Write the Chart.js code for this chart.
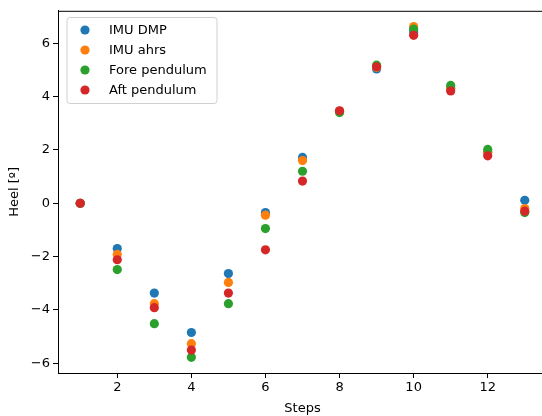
<!DOCTYPE html>
<html>
<head>
<meta charset="utf-8">
<script src="https://cdn.jsdelivr.net/npm/chart.js@4"></script>
<style>
  html, body { margin: 0; padding: 0; background: #fff; overflow: hidden; }
  #wrap { width: 542px; height: 416px; overflow: hidden; position: relative; }
  #box { width: 560px; height: 416px; position: absolute; left: 0; top: 0; }
  #heelChart { display: block; }
</style>
</head>
<body>
<div id="wrap"><div id="box"><canvas id="heelChart" width="560" height="416"></canvas></div></div>
<script>
// Heel per step, four sensors
const steps = [1, 2, 3, 4, 5, 6, 7, 8, 9, 10, 11, 12, 13];
const imuDmp = [0, -1.70, -3.37, -4.85, -2.64, -0.35, 1.72, 3.45, 5.04, 6.42, 4.30, 1.92, 0.11];
const imuAhrs = [0, -1.92, -3.77, -5.27, -2.97, -0.45, 1.60, 3.45, 5.10, 6.63, 4.32, 1.90, -0.20];
const forePendulum = [0, -2.49, -4.52, -5.78, -3.77, -0.95, 1.20, 3.40, 5.18, 6.53, 4.42, 2.02, -0.35];
const aftPendulum = [0, -2.12, -3.92, -5.51, -3.37, -1.75, 0.83, 3.47, 5.12, 6.30, 4.21, 1.78, -0.30];

const xTicks = [2, 4, 6, 8, 10, 12];
const yTicks = [-6, -4, -2, 0, 2, 4, 6];

const Colors = ['#1f77b4', '#ff7f0e', '#2ca02c', '#d62728'];
const FONT = 'DejaVu Sans';

function points(values) {
    return steps.map((s, i) => ({ x: s, y: values[i] }));
}

function makeDataset(label, values, idx) {
    return {
        label: label,
        data: points(values),
        backgroundColor: Colors[idx],
        borderColor: Colors[idx],
        borderWidth: 0,
        pointRadius: 4.6,
        pointHoverRadius: 4.6,
        order: 3 - idx   // last series drawn on top, like matplotlib
    };
}

function fmt(v) {
    return String(v).replace('-', '\u2212');
}

// top spine + legend box drawn like matplotlib
const framePlugin = {
    id: 'frame',
    afterDraw(chart) {
        const { ctx, chartArea: a } = chart;
        ctx.save();
        ctx.strokeStyle = '#000';
        ctx.lineWidth = 1;
        ctx.beginPath();
        ctx.moveTo(a.left, a.top + 0.5);
        ctx.lineTo(a.right, a.top + 0.5);
        ctx.stroke();

        // legend
        const x0 = 67, y0 = 17.5, w = 150, h = 86;
        ctx.fillStyle = 'rgba(255,255,255,0.8)';
        ctx.strokeStyle = '#d0d0d0';
        ctx.beginPath();
        ctx.roundRect(x0, y0, w, h, 3);
        ctx.fill();
        ctx.stroke();
        ctx.font = '13px "' + FONT + '"';
        ctx.textBaseline = 'middle';
        chart.data.datasets.forEach((ds, i) => {
            const cy = 30 + i * 20;
            ctx.fillStyle = ds.backgroundColor;
            ctx.beginPath();
            ctx.arc(85, cy, 4.6, 0, Math.PI * 2);
            ctx.fill();
            ctx.fillStyle = '#000';
            ctx.fillText(ds.label, 109, cy + 1);
        });
        ctx.restore();
    }
};

const ctx = document.getElementById('heelChart');
new Chart(ctx, {
    type: 'scatter',
    data: {
        datasets: [
            makeDataset('IMU DMP', imuDmp, 0),
            makeDataset('IMU ahrs', imuAhrs, 1),
            makeDataset('Fore pendulum', forePendulum, 2),
            makeDataset('Aft pendulum', aftPendulum, 3)
        ]
    },
    options: {
        responsive: false,
        maintainAspectRatio: false,
        animation: false,
        layout: { padding: { top: 10, right: 13, left: 0, bottom: 0 } },
        plugins: {
            legend: { display: false },
            tooltip: { enabled: false }
        },
        scales: {
            x: {
                type: 'linear',
                min: 0.4,
                max: 13.6,
                afterBuildTicks: scale => { scale.ticks = xTicks.map(v => ({ value: v })); },
                afterFit: scale => { scale.height = 43; },
                grid: { drawOnChartArea: false, tickLength: 5, color: '#000' },
                border: { color: '#000', width: 1 },
                ticks: {
                    color: '#000',
                    padding: 2,
                    font: { family: FONT, size: 13 },
                    maxRotation: 0,
                    callback: v => fmt(v)
                },
                title: {
                    display: true,
                    text: 'Steps',
                    color: '#000',
                    font: { family: FONT, size: 13 },
                    padding: { top: 0, bottom: 0 }
                }
            },
            y: {
                type: 'linear',
                min: -6.37,
                max: 7.22,
                afterBuildTicks: scale => { scale.ticks = yTicks.map(v => ({ value: v })); },
                afterFit: scale => { scale.width = 58; },
                grid: { drawOnChartArea: false, tickLength: 5, color: '#000' },
                border: { color: '#000', width: 1 },
                ticks: {
                    color: '#000',
                    padding: 3,
                    font: { family: FONT, size: 13 },
                    callback: v => fmt(v)
                },
                title: {
                    display: true,
                    text: 'Heel [º]',
                    color: '#000',
                    font: { family: FONT, size: 13 },
                    padding: { top: 7, bottom: 0 }
                }
            }
        }
    },
    plugins: [framePlugin]
});
</script>
</body>
</html>
